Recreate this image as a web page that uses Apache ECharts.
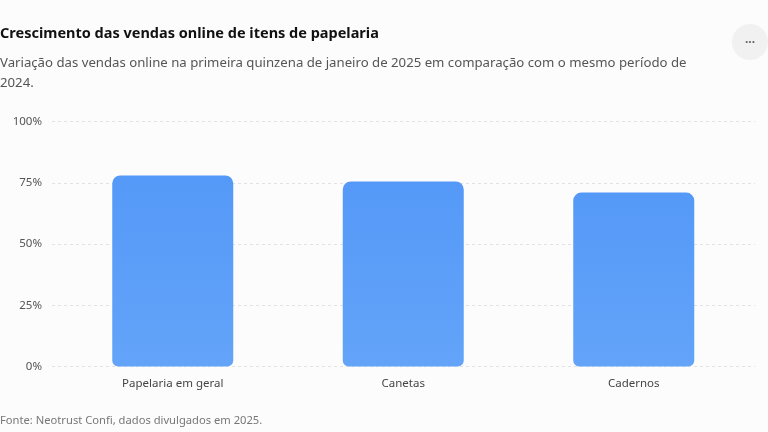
<!DOCTYPE html>
<html>
<head>
<meta charset="utf-8">
<script src="https://cdn.jsdelivr.net/npm/echarts@6/dist/echarts.min.js"></script>
<style>
  html, body { margin: 0; padding: 0; background: #fcfcfc; }
  #chart { width: 768px; height: 432px; }
</style>
</head>
<body>
<div id="chart"></div>
<script>
var categories = ["Papelaria em geral", "Canetas", "Cadernos"];
var growth = [78, 75.5, 71];
var yTicks = [0, 25, 50, 75, 100];

var titleText = "Crescimento das vendas online de itens de papelaria";
var subtitleText = "Variação das vendas online na primeira quinzena de janeiro de 2025 em comparação com o mesmo período de\n2024.";
var sourceText = "Fonte: Neotrust Confi, dados divulgados em 2025.";

var chart = echarts.init(document.getElementById("chart"));
var font = "'Noto Sans', 'Open Sans', sans-serif";

chart.setOption({
  backgroundColor: "#fcfcfc",
  textStyle: { fontFamily: font },
  title: [
    {
      text: titleText,
      left: 0,
      top: 26,
      padding: 0,
      textStyle: { fontSize: 14.5, fontWeight: "bold", color: "#111", fontFamily: font }
    },
    {
      text: subtitleText,
      left: 0,
      top: 53,
      padding: 0,
      textStyle: { fontSize: 13.2, fontWeight: "normal", color: "#555", lineHeight: 20, fontFamily: font }
    },
    {
      text: sourceText,
      left: 0,
      top: 415,
      padding: 0,
      textStyle: { fontSize: 11.2, fontWeight: "normal", color: "#777", fontFamily: font }
    }
  ],
  graphic: [
    {
      type: "circle",
      shape: { cx: 750, cy: 42, r: 18 },
      style: { fill: "#f1f1f1" }
    },
    {
      type: "text",
      x: 750,
      y: 43,
      style: { text: "···", fill: "#666", font: "bold 12px " + font, align: "center", verticalAlign: "middle" }
    }
  ],
  grid: [
    // bars
    { left: 57.5, right: 19, top: 121.5, bottom: 65.5 },
    // gridlines + y labels
    { left: 52, right: 13, top: 121.5, bottom: 65.5 }
  ],
  xAxis: [
    {
      gridIndex: 0,
      type: "category",
      data: categories,
      axisLine: { show: false },
      axisTick: { show: false },
      axisLabel: { color: "#444", fontSize: 11.5, margin: 11, fontFamily: font }
    },
    {
      gridIndex: 1,
      type: "category",
      data: categories,
      show: false
    }
  ],
  yAxis: [
    {
      gridIndex: 0,
      type: "value",
      min: 0,
      max: 100,
      interval: 25,
      show: false,
      splitLine: { show: false }
    },
    {
      gridIndex: 1,
      type: "value",
      min: yTicks[0],
      max: yTicks[yTicks.length - 1],
      interval: 25,
      axisLine: { show: false },
      axisTick: { show: false },
      axisLabel: {
        color: "#555",
        fontSize: 11.5,
        margin: 10,
        fontFamily: font,
        formatter: function (v) { return v + "%"; }
      },
      splitLine: { lineStyle: { color: "#e2e2e2", type: [3, 3], width: 1 } }
    }
  ],
  series: [
    {
      type: "bar",
      xAxisIndex: 0,
      yAxisIndex: 0,
      data: growth,
      barWidth: 121,
      itemStyle: {
        borderRadius: [8, 8, 6, 6],
        color: new echarts.graphic.LinearGradient(0, 0, 0, 1, [
          { offset: 0, color: "#5599f8" },
          { offset: 1, color: "#63a4f9" }
        ])
      },
      silent: true,
      z: 3
    }
  ]
});
</script>
</body>
</html>
